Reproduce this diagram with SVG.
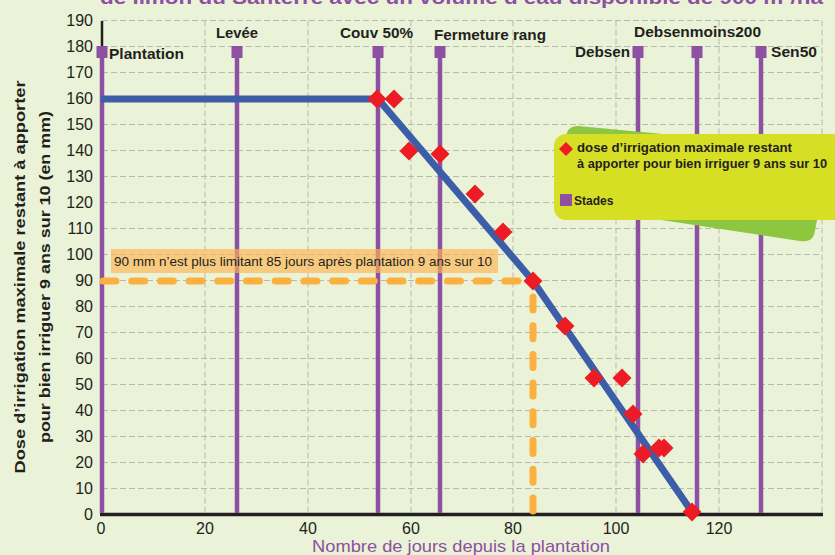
<svg xmlns="http://www.w3.org/2000/svg" width="835" height="555" viewBox="0 0 835 555">
<defs>
<style>
text{font-family:"Liberation Sans",Arial,sans-serif;fill:#231f20}
.yl{font-size:16px;text-anchor:end}
.xl{font-size:16px;text-anchor:middle}
.st{font-size:14px;font-weight:bold}
.grid{stroke:#b7b9b2;stroke-width:1;stroke-dasharray:6 3;fill:none}
.stage{stroke:#8e50a2;stroke-width:4.5}
.mk{fill:#8e50a2}
</style>
<path id="d" d="M0,-9.5L9.5,0L0,9.5L-9.5,0Z" fill="#ed1c24"/>
</defs>
<rect width="835" height="555" fill="#eaf3d7"/>
<text x="100" y="4" font-size="19" font-weight="bold" style="fill:#8e50a2" textLength="723" lengthAdjust="spacingAndGlyphs">de limon du Santerre avec un volume d’eau disponible de 900 m³/ha</text>

<g id="grid">
<path class="grid" d="M102,20.5H822M102,46.5H822M102,72.5H822M102,98.5H822M102,124.5H822M102,150.5H822M102,176.5H822M102,202.5H822M102,228.5H822M102,254.5H822M102,280.5H822M102,306.5H822M102,332.5H822M102,358.5H822M102,384.5H822M102,410.5H822M102,436.5H822M102,462.5H822M102,488.5H822"/>
<path class="grid" d="M205,20.5V514M308,20.5V514M411,20.5V514M513,20.5V514M616,20.5V514M719,20.5V514M822,20.5V514"/>
</g>

<g id="axes">
<line x1="102" y1="21" x2="102" y2="514" stroke="#231f20" stroke-width="2.5"/>
<line x1="100" y1="514.5" x2="823" y2="514.5" stroke="#231f20" stroke-width="3.5"/>
<g class="yl">
<text class="yl" x="93" y="520">0</text>
<text class="yl" x="93" y="494">10</text>
<text class="yl" x="93" y="468">20</text>
<text class="yl" x="93" y="442">30</text>
<text class="yl" x="93" y="416">40</text>
<text class="yl" x="93" y="390">50</text>
<text class="yl" x="93" y="364">60</text>
<text class="yl" x="93" y="338">70</text>
<text class="yl" x="93" y="312">80</text>
<text class="yl" x="93" y="286">90</text>
<text class="yl" x="93" y="260">100</text>
<text class="yl" x="93" y="234">110</text>
<text class="yl" x="93" y="208">120</text>
<text class="yl" x="93" y="182">130</text>
<text class="yl" x="93" y="156">140</text>
<text class="yl" x="93" y="130">150</text>
<text class="yl" x="93" y="104">160</text>
<text class="yl" x="93" y="78">170</text>
<text class="yl" x="93" y="52">180</text>
<text class="yl" x="93" y="26">190</text>
</g>
<text class="xl" x="101" y="534">0</text>
<text class="xl" x="205" y="534">20</text>
<text class="xl" x="308" y="534">40</text>
<text class="xl" x="411" y="534">60</text>
<text class="xl" x="513" y="534">80</text>
<text class="xl" x="616" y="534">100</text>
<text class="xl" x="719" y="534">120</text>
<text x="461" y="551.5" font-size="17" text-anchor="middle" style="fill:#8e50a2" textLength="298" lengthAdjust="spacingAndGlyphs">Nombre de jours depuis la plantation</text>
<g font-size="15" font-weight="bold" text-anchor="middle">
<text transform="translate(25,277) rotate(-90)" textLength="393" lengthAdjust="spacingAndGlyphs">Dose d’irrigation maximale restant à apporter</text>
<text transform="translate(50,277) rotate(-90)" textLength="332" lengthAdjust="spacingAndGlyphs">pour bien irriguer 9 ans sur 10 (en mm)</text>
</g>
</g>

<g id="stages">
<g id="stage-plantation"><line class="stage" x1="102" y1="50" x2="102" y2="513"/><rect class="mk" x="96.5" y="46" width="11" height="12"/><text class="st" x="109" y="59" textLength="75" lengthAdjust="spacingAndGlyphs">Plantation</text></g>
<g id="stage-levee"><line class="stage" x1="237" y1="50" x2="237" y2="513"/><rect class="mk" x="231.5" y="46" width="11" height="12"/><text class="st" x="216" y="38" textLength="42" lengthAdjust="spacingAndGlyphs">Levée</text></g>
<g id="stage-couv"><line class="stage" x1="378" y1="50" x2="378" y2="513"/><rect class="mk" x="372.5" y="46" width="11" height="12"/><text class="st" x="340" y="38" textLength="73" lengthAdjust="spacingAndGlyphs">Couv 50%</text></g>
<g id="stage-fermeture"><line class="stage" x1="440" y1="50" x2="440" y2="513"/><rect class="mk" x="434.5" y="46" width="11" height="12"/><text class="st" x="434" y="40" textLength="112" lengthAdjust="spacingAndGlyphs">Fermeture rang</text></g>
<g id="stage-debsen"><line class="stage" x1="638" y1="50" x2="638" y2="513"/><rect class="mk" x="632.5" y="46" width="11" height="12"/><text class="st" x="575" y="57" textLength="55" lengthAdjust="spacingAndGlyphs">Debsen</text></g>
<g id="stage-debsenmoins200"><line class="stage" x1="697" y1="50" x2="697" y2="513"/><rect class="mk" x="691.5" y="46" width="11" height="12"/><text class="st" x="634" y="37" textLength="127" lengthAdjust="spacingAndGlyphs">Debsenmoins200</text></g>
<g id="stage-sen50"><line class="stage" x1="761" y1="50" x2="761" y2="513"/><rect class="mk" x="755.5" y="46" width="11" height="12"/><text class="st" x="771" y="57" textLength="46" lengthAdjust="spacingAndGlyphs">Sen50</text></g>
</g>

<g id="annotation">
<rect x="111" y="249" width="387" height="24" fill="#ffb450" fill-opacity="0.65"/>
<text x="114" y="266" font-size="13" textLength="378" lengthAdjust="spacingAndGlyphs">90 mm n’est plus limitant 85 jours après plantation 9 ans sur 10</text>
</g>

<g id="connectors">
<path d="M101,99H378L533,281L692,512" fill="none" stroke="#3c5ea8" stroke-width="7" stroke-linejoin="round"/>
<path d="M103,281H521" fill="none" stroke="#fbb040" stroke-width="7" stroke-linecap="round" stroke-dasharray="13 15.7"/>
<path d="M533,297V511" fill="none" stroke="#fbb040" stroke-width="7" stroke-linecap="round" stroke-dasharray="13 15.7"/>
</g>

<g id="points">
<use href="#d" x="377" y="99"/>
<use href="#d" x="394" y="99"/>
<use href="#d" x="409" y="151"/>
<use href="#d" x="440" y="154"/>
<use href="#d" x="475" y="194"/>
<use href="#d" x="503" y="232"/>
<use href="#d" x="533" y="281"/>
<use href="#d" x="565" y="326"/>
<use href="#d" x="594" y="378"/>
<use href="#d" x="622" y="378"/>
<use href="#d" x="633" y="414"/>
<use href="#d" x="643" y="454"/>
<use href="#d" x="659" y="448"/>
<use href="#d" x="664" y="448"/>
<use href="#d" x="692" y="512"/>
</g>

<g id="legend">
<path d="M578,126 Q567,126 566,137 L562,205 L800,241 Q814,243 815,230 L832,150 Z" fill="#8dc63f"/>
<rect x="554" y="134" width="300" height="86" rx="12" fill="#d6df23"/>
<path d="M566,142L573,149L566,156L559,149Z" fill="#ed1c24"/>
<text x="577" y="152" font-size="12" font-weight="bold" textLength="215" lengthAdjust="spacingAndGlyphs">dose d’irrigation maximale restant</text>
<text x="577" y="168" font-size="12" font-weight="bold" textLength="250" lengthAdjust="spacingAndGlyphs">à apporter pour bien irriguer 9 ans sur 10</text>
<rect x="560" y="194" width="12" height="12" fill="#8e50a2"/>
<text x="574" y="205" font-size="12" font-weight="bold">Stades</text>
</g>
</svg>
